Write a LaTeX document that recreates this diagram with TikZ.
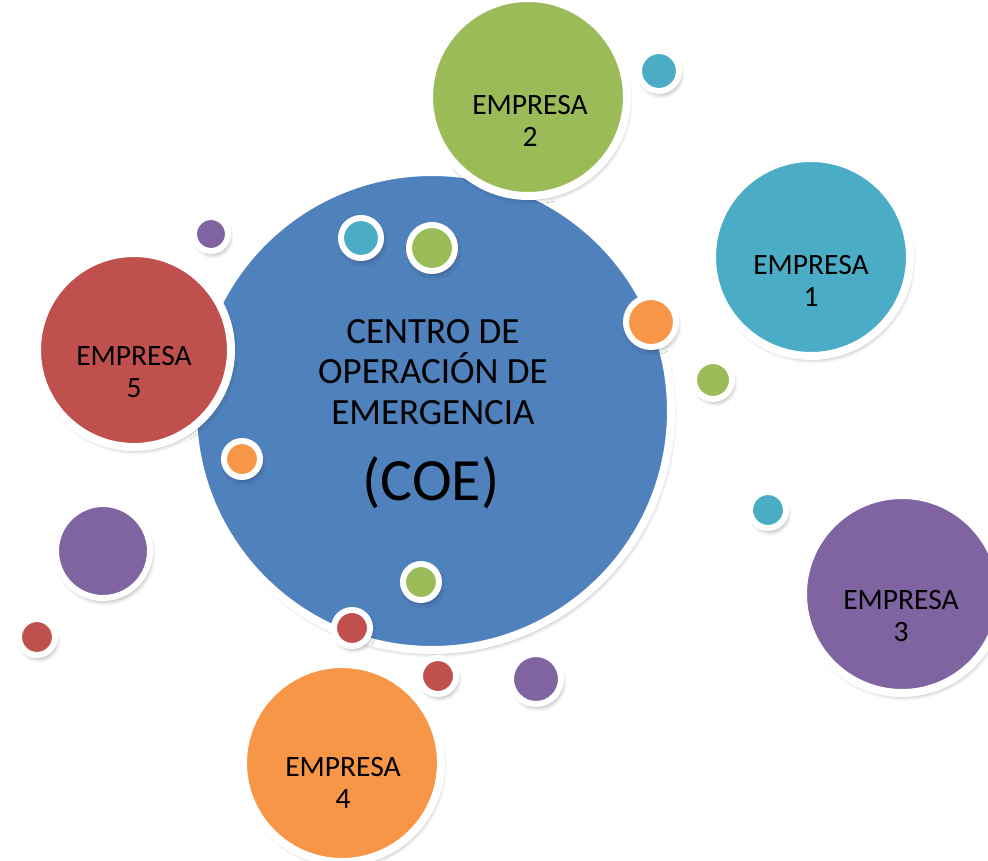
\documentclass[tikz,border=0pt]{standalone}
\usepackage{fontspec}
\setmainfont{Carlito}
\usetikzlibrary{shadows.blur}
\definecolor{cblue}{HTML}{4F81BD}
\definecolor{cgreen}{HTML}{9BBB59}
\definecolor{cteal}{HTML}{4BACC6}
\definecolor{cpurple}{HTML}{8064A2}
\definecolor{cred}{HTML}{C0504D}
\definecolor{corange}{HTML}{F79646}
\tikzset{
  bubble/.style={circle, draw=white, inner sep=0pt, outer sep=0pt, align=center, text=black,
    blur shadow={shadow xshift=2pt, shadow yshift=-4pt, shadow blur steps=6, shadow blur radius=4pt, shadow opacity=30}},
  big/.style={bubble, line width=8pt, minimum size=198pt},
  btext/.style={align=center, font=\fontsize{29.5}{32}\selectfont},
  dot/.style={bubble, line width=6pt, minimum size=#1},
}
\begin{document}
\begin{tikzpicture}[x=1pt,y=-1pt]
\useasboundingbox (0,0) rectangle (988,860);
\node[bubble, line width=8pt, minimum size=478pt, fill=cblue] (coe) at (432,411) {};
\node[align=center, font=\fontsize{37}{40.5}\selectfont] (coetxt) at (433,372) {CENTRO DE\\OPERACIÓN DE\\EMERGENCIA};
\node[font=\fontsize{60}{64}\selectfont] (coeabbr) at (431,483) {(COE)};
\node[big, fill=cgreen] (e2) at (528,97) {};
\node[btext] (t2) at (530,121) {EMPRESA\\2};
\node[big, fill=cteal] (e1) at (811,257) {};
\node[btext] (t1) at (811,281) {EMPRESA\\1};
\node[big, fill=cpurple] (e3) at (902,594) {};
\node[btext] (t3) at (901,616) {EMPRESA\\3};
\node[big, fill=corange] (e4) at (342,763) {};
\node[btext] (t4) at (343,783) {EMPRESA\\4};
\node[big, fill=cred, minimum size=194pt] (e5) at (134,350) {};
\node[btext] (t5) at (134,372) {EMPRESA\\5};
\node[dot=40pt, fill=cteal] (s1) at (659,71) {};
\node[dot=34pt, fill=cpurple] (s2) at (211,234) {};
\node[dot=40pt, fill=cteal] (s3) at (361,238) {};
\node[dot=46pt, fill=cgreen] (s4) at (432,248) {};
\node[dot=50pt, fill=corange] (s5) at (651,322) {};
\node[dot=38pt, fill=cgreen] (s6) at (713,380) {};
\node[dot=36pt, fill=corange] (s7) at (242,459) {};
\node[dot=36pt, fill=cteal] (s8) at (768,510) {};
\node[dot=94pt, fill=cpurple] (s9) at (103,551) {};
\node[dot=36pt, fill=cred] (s10) at (37,637) {};
\node[dot=36pt, fill=cgreen] (s11) at (421,582) {};
\node[dot=36pt, fill=cred] (s12) at (352,628) {};
\node[dot=36pt, fill=cred] (s13) at (438,676) {};
\node[dot=50pt, fill=cpurple] (s14) at (536,679) {};
\end{tikzpicture}
\end{document}
